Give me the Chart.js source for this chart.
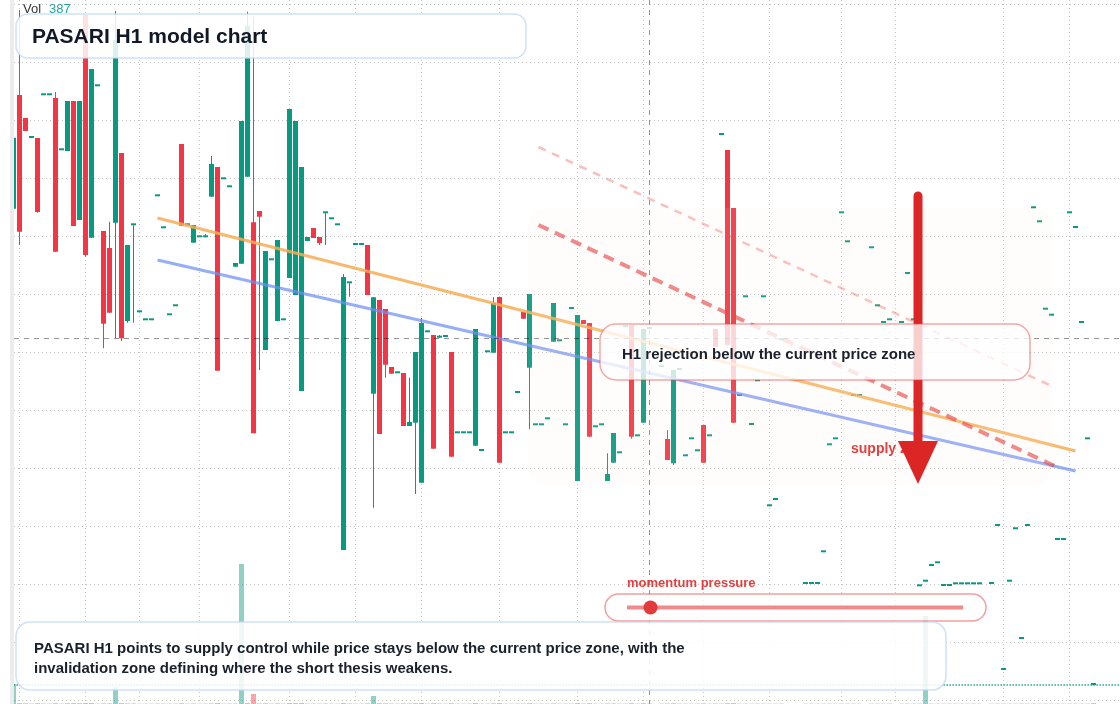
<!DOCTYPE html>
<html>
<head>
<meta charset="utf-8">
<title>PASARI H1 model chart</title>
<script src="https://cdn.jsdelivr.net/npm/chart.js@4.4.1/dist/chart.umd.min.js"></script>
<style>
  html, body { margin: 0; padding: 0; background: #fff; }
  #wrap { position: relative; width: 1120px; height: 704px; }
</style>
</head>
<body>
<div id="wrap"><canvas id="pasariChart"></canvas></div>
<script>
// H1 candles, index 0..180 (null = no print)
const opens = [
  79.13, 90.5, 88.2, 86.2, 86.2, 90.47, 90.47, 90.2, 84.97, 84.9,
  89.9, 78.0, 98.5, 76.23, 91.37, 76.9, 75.2, 77.73, 84.7, 67.9,
  77.47, 68.77, 67.97, 67.97, 80.37, 77.17, 68.47, 69.37, 85.6, 77.47,
  75.73, 76.27, 76.27, 80.33, 83.3, 82.07, 81.27, 73.33, 73.63, 82.33,
  77.77, 78.9, 65.0, 73.97, 67.9, 67.97, 72.2, 70.5, 60.9, 75.9,
  77.2, 76.3, 78.67, 78.07, 77.47, 45.0, 71.67, 75.5, 75.5, 75.5,
  60.63, 70.0, 69.1, 63.3, 62.67, 62.7, 57.4, 57.73, 51.73, 66.77,
  66.5, 66.23, 66.3, 64.8, 56.67, 56.67, 56.67, 55.43, 54.9, 64.77,
  64.73, 70.3, 56.67, 56.67, 60.7, 68.8, 63.23, 57.47, 57.47, 58.07,
  65.83, 65.87, 57.47, 69.1, 51.9, 68.0, 67.7, 57.27, 57.47, 51.9,
  53.73, 54.67, 67.3, 67.5, 56.37, 57.73, 67.1, null, 63.3, 56.1,
  53.67, 63.0, 54.37, 56.07, 54.87, 57.5, 56.37, 67.1, 86.5, 85.0,
  79.2, 60.4, 70.27, 57.5, 61.87, 70.27, 49.37, 50.0, 65.97, null,
  null, null, 41.6, 41.6, 41.6, 44.77, 55.47, 56.07, 78.67, 75.77,
  60.4, 60.4, null, 75.17, 69.37, 67.7, 67.97, null, 67.7, 72.6,
  67.97, 41.37, 41.83, 43.4, 43.67, 41.4, 41.4, 41.57, 41.57, 41.57,
  41.57, 41.57, null, 41.6, 47.4, 33.0, 41.83, 47.07, 36.1, 47.4,
  79.17, 77.77, 69.03, 68.43, 46.0, 46.0, 78.67, 77.2, 67.7, 56.07, 31.5
];
const highs = [
  86.23, 99.0, 88.2, 86.2, 86.2, 90.47, 90.47, 90.8, 84.97, 89.9,
  89.9, 89.9, 98.5, 93.1, 91.37, 76.9, 77.83, 98.9, 84.7, 75.5,
  77.47, 68.77, 67.97, 67.97, 80.37, 77.17, 68.47, 69.37, 85.6, 77.47,
  77.5, 76.27, 76.6, 84.4, 83.3, 82.07, 81.27, 73.7, 87.9, 98.83,
  98.33, 78.9, 74.9, 73.97, 76.0, 67.97, 89.1, 87.9, 83.3, 76.3,
  77.2, 76.3, 78.67, 78.07, 77.47, 72.6, 71.67, 75.5, 75.5, 75.5,
  70.27, 70.0, 69.1, 63.3, 62.67, 62.7, 62.23, 64.8, 68.2, 66.77,
  66.5, 66.5, 66.3, 64.8, 56.67, 56.67, 56.67, 67.1, 54.9, 64.77,
  70.27, 70.3, 56.67, 56.67, 60.7, 68.8, 70.6, 57.47, 57.47, 58.07,
  69.7, 65.87, 57.47, 69.1, 68.5, 68.0, 67.7, 57.27, 57.47, 54.67,
  56.7, 54.67, 67.3, 67.5, 56.37, 67.1, 67.1, null, 63.3, 57.0,
  63.0, 63.0, 54.37, 56.07, 54.87, 57.5, 56.37, 67.1, 86.5, 85.0,
  79.2, 60.4, 70.27, 57.5, 61.87, 70.27, 49.37, 50.0, 65.97, null,
  null, null, 41.6, 41.6, 41.6, 44.77, 55.47, 56.07, 78.67, 75.77,
  60.4, 60.4, null, 75.17, 69.37, 67.7, 67.97, null, 67.7, 72.6,
  67.97, 41.37, 41.83, 43.4, 43.67, 41.4, 41.4, 41.57, 41.57, 41.57,
  41.57, 41.57, null, 41.6, 47.4, 33.0, 41.83, 47.07, 36.1, 47.4,
  79.17, 77.77, 69.03, 68.43, 46.0, 46.0, 78.67, 77.2, 67.7, 56.07, 31.5
];
const lows = [
  79.13, 75.5, 86.9, 86.2, 78.73, 90.47, 90.47, 74.83, 84.97, 84.9,
  77.4, 78.0, 74.33, 76.23, 91.37, 65.17, 68.73, 66.2, 65.93, 67.73,
  67.73, 68.77, 67.97, 67.97, 80.37, 77.17, 68.47, 69.37, 77.43, 77.47,
  75.73, 76.27, 76.27, 80.33, 62.93, 82.07, 81.27, 73.33, 73.63, 82.33,
  56.67, 63.0, 65.0, 73.97, 67.9, 67.97, 72.2, 70.5, 60.9, 75.9,
  76.2, 75.5, 75.5, 78.07, 77.47, 45.0, 70.33, 75.5, 75.5, 70.5,
  49.23, 56.6, 62.23, 62.63, 62.67, 57.4, 57.4, 50.6, 51.73, 66.77,
  55.13, 66.23, 66.3, 54.33, 56.67, 56.67, 56.67, 55.43, 54.9, 64.77,
  64.73, 53.73, 56.67, 56.67, 60.7, 68.13, 57.07, 57.47, 57.47, 58.07,
  65.83, 65.87, 57.47, 69.1, 51.9, 67.6, 56.33, 57.27, 57.47, 51.9,
  53.73, 54.67, 67.3, 56.13, 56.37, 57.73, 67.1, null, 63.3, 54.0,
  53.5, 63.0, 54.37, 56.07, 54.87, 53.73, 56.37, 65.3, 86.5, 65.5,
  57.73, 60.4, 70.27, 57.5, 61.87, 70.27, 49.37, 50.0, 65.97, null,
  null, null, 41.6, 41.6, 41.6, 44.77, 55.47, 56.07, 78.67, 75.77,
  60.4, 60.4, null, 75.17, 69.37, 67.7, 67.97, null, 67.7, 72.6,
  67.97, 41.37, 41.83, 43.4, 43.67, 41.4, 41.4, 41.57, 41.57, 41.57,
  41.57, 41.57, null, 41.6, 47.4, 33.0, 41.83, 47.07, 36.1, 47.4,
  79.17, 77.77, 69.03, 68.43, 46.0, 46.0, 78.67, 77.2, 67.7, 56.07, 31.5
];
const closes = [
  86.23, 76.83, 86.9, 86.2, 78.8, 90.47, 90.47, 74.83, 84.97, 89.9,
  77.4, 89.9, 74.5, 93.1, 91.37, 67.63, 68.73, 96.0, 66.17, 75.5,
  77.47, 68.77, 67.97, 67.97, 80.37, 77.17, 68.47, 69.37, 77.43, 77.47,
  77.5, 76.27, 76.27, 83.6, 62.93, 82.07, 81.27, 73.7, 87.9, 97.4,
  56.67, 78.33, 74.9, 73.97, 76.0, 67.97, 89.1, 87.9, 83.3, 76.3,
  76.2, 75.7, 78.67, 78.07, 77.47, 72.3, 71.67, 75.5, 75.5, 70.5,
  70.27, 56.6, 63.53, 62.63, 62.67, 57.4, 57.8, 64.8, 67.7, 66.77,
  55.13, 66.23, 66.3, 54.33, 56.67, 56.67, 56.67, 67.1, 54.9, 64.77,
  69.7, 53.73, 56.67, 56.67, 60.7, 68.13, 70.6, 57.47, 57.47, 58.07,
  69.7, 65.87, 57.47, 69.1, 68.5, 67.6, 56.33, 57.27, 57.47, 52.6,
  56.7, 54.67, 67.3, 56.33, 56.37, 67.1, 67.1, null, 63.3, 54.0,
  63.0, 63.0, 54.37, 56.07, 54.87, 53.73, 56.37, 65.3, 86.5, 65.5,
  57.73, 60.4, 70.27, 57.5, 61.87, 70.27, 49.37, 50.0, 65.97, null,
  null, null, 41.6, 41.6, 41.6, 44.77, 55.47, 56.07, 78.67, 75.77,
  60.4, 60.4, null, 75.17, 69.37, 67.7, 67.97, null, 67.7, 72.6,
  67.97, 41.37, 41.83, 43.4, 43.67, 41.4, 41.4, 41.57, 41.57, 41.57,
  41.57, 41.57, null, 41.6, 47.4, 33.0, 41.83, 47.07, 36.1, 47.4,
  79.17, 77.77, 69.03, 68.43, 46.0, 46.0, 78.67, 77.2, 67.7, 56.07, 31.5
];
const volumes = [
  10000, 420, 310, 180, 360, 220, 190, 400, 170, 330,
  380, 350, 450, 440, 160, 300, 280, 8500, 390, 260,
  240, 150, 170, 160, 200, 210, 180, 190, 340, 170,
  230, 160, 180, 270, 440, 180, 200, 210, 70000, 430,
  5000, 250, 330, 190, 300, 170, 440, 420, 450, 200,
  210, 220, 230, 170, 160, 450, 220, 180, 170, 290,
  4000, 380, 310, 200, 170, 300, 240, 360, 430, 180,
  370, 200, 160, 360, 170, 160, 180, 400, 170, 190,
  300, 440, 170, 160, 190, 210, 350, 160, 170, 180,
  260, 170, 180, 190, 420, 200, 380, 170, 160, 250,
  260, 170, 190, 390, 170, 350, 180, null, 170, 240,
  330, 180, 170, 160, 170, 280, 160, 240, 190, 400,
  430, 170, 180, 160, 170, 180, 160, 170, 190, null,
  null, null, 160, 170, 160, 180, 170, 160, 190, 180,
  170, 160, null, 180, 170, 160, 170, null, 160, 190,
  170, 180, 44000, 190, 170, 160, 170, 180, 160, 170,
  180, 160, null, 170, 180, 190, 160, 170, 200, 180,
  190, 170, 180, 160, 170, 180, 190, 170, 160, 180, 387
];
const volAvg = 9500;

// grid / tick positions
const gridIdx = [1, 12, 21, 31, 46, 57, 68, 81, 94, 105, 115, 126, 138, 147, 165, 176];
const gridPrices = [30, 35.8, 41.6, 47.4, 53.2, 59, 64.8, 70.6, 76.4, 82.2, 88, 93.8, 99.6];

// drawn levels: [index, price] end points
const resistanceLine = [[24, 78.2], [177, 54.9]];
const supportLine = [[24, 74.0], [177, 52.9]];
const supplyPath = [[87.5, 77.5], [173.5, 53.4]];
const upperPath = [[87.5, 85.3], [173, 61.4]];
const supplyZone = { from: 85.75, to: 173.08, top: 79.2, bottom: 51.5 };
const arrowLeg = { at: 150.75, from: 80.4, headStart: 55.9, to: 51.6 };
const crossIdx = 106;
const currentPrice = 66.15;
const momentum = 0.07;

const titleText = 'PASARI H1 model chart';
const calloutText = 'H1 rejection below the current price zone';
const noteLines = [
  'PASARI H1 points to supply control while price stays below the current price zone, with the',
  'invalidation zone defining where the short thesis weakens.'
];

const UP = '#089981';
const DOWN = '#f23645';
const FONT = '"Liberation Sans", Arial, sans-serif';

const live = opens.map((o, i) => i).filter(i => opens[i] !== null);
const bodyData = live.map(i => ({ x: i, y: [opens[i], closes[i]], up: closes[i] >= opens[i] }));
const wickData = live.map(i => ({ x: i, y: [lows[i], highs[i]], up: closes[i] >= opens[i] }));
const volData = live.map(i => ({ x: i, y: volumes[i], up: closes[i] >= opens[i] }));
const toPts = arr => arr.map(p => ({ x: p[0], y: p[1] }));

const candleColor = ctx => (ctx.raw && ctx.raw.up) ? UP : DOWN;
const volColor = ctx => (ctx.raw && ctx.raw.up) ? 'rgba(8, 153, 129, 0.45)' : 'rgba(242, 54, 69, 0.45)';

function box(ctx, x, y, w, h, r, fill, stroke, lw) {
  ctx.beginPath();
  ctx.roundRect(x, y, w, h, r);
  if (fill) { ctx.fillStyle = fill; ctx.fill(); }
  if (stroke) { ctx.strokeStyle = stroke; ctx.lineWidth = lw; ctx.stroke(); }
}

const overlay = {
  id: 'overlay',
  beforeDraw(chart) {
    const { ctx } = chart;
    ctx.save();
    ctx.fillStyle = '#ececec';
    ctx.fillRect(10, 0, 4, chart.height);
    ctx.restore();
  },
  afterDatasetsDraw(chart) {
    const { ctx, chartArea, scales: { x, y } } = chart;
    ctx.save();
    // supply zone
    const zx0 = x.getPixelForValue(supplyZone.from), zx1 = x.getPixelForValue(supplyZone.to);
    const zy0 = y.getPixelForValue(supplyZone.top), zy1 = y.getPixelForValue(supplyZone.bottom);
    box(ctx, zx0, zy0, zx1 - zx0, zy1 - zy0, 18, 'rgba(255, 237, 213, 0.09)');

    // crosshair
    ctx.strokeStyle = 'rgba(0, 0, 0, 0.42)';
    ctx.lineWidth = 1;
    ctx.setLineDash([5, 5]);
    const cx = x.getPixelForValue(crossIdx);
    const cy = y.getPixelForValue(currentPrice);
    ctx.beginPath();
    ctx.moveTo(cx, chartArea.top); ctx.lineTo(cx, chartArea.bottom);
    ctx.moveTo(chartArea.left, cy); ctx.lineTo(chartArea.right, cy);
    ctx.stroke();
    ctx.setLineDash([]);

    // supply zone label
    ctx.font = 'bold 14px ' + FONT;
    ctx.fillStyle = '#e53e3e';
    ctx.textBaseline = 'alphabetic';
    ctx.fillText('supply zone', 851, 453);

    // down arrow
    const ax = x.getPixelForValue(arrowLeg.at);
    const aTop = y.getPixelForValue(arrowLeg.from);
    const aHead = y.getPixelForValue(arrowLeg.headStart);
    const aTip = y.getPixelForValue(arrowLeg.to);
    ctx.strokeStyle = '#dc2626';
    ctx.fillStyle = '#dc2626';
    ctx.lineWidth = 9;
    ctx.lineCap = 'round';
    ctx.beginPath();
    ctx.moveTo(ax, aTop); ctx.lineTo(ax, aHead + 4);
    ctx.stroke();
    ctx.beginPath();
    ctx.moveTo(ax - 20, aHead); ctx.lineTo(ax + 20, aHead); ctx.lineTo(ax, aTip);
    ctx.closePath();
    ctx.fill();
    ctx.restore();
  },
  afterDraw(chart) {
    const { ctx } = chart;
    ctx.save();
    ctx.textBaseline = 'alphabetic';

    // callout
    box(ctx, 600, 324, 430, 56, 16, 'rgba(255, 255, 255, 0.78)', 'rgba(229, 62, 62, 0.45)', 1.5);
    ctx.font = 'bold 15px ' + FONT;
    ctx.fillStyle = '#1a202c';
    ctx.fillText(calloutText, 622, 359);

    // momentum slider
    ctx.font = 'bold 13px ' + FONT;
    ctx.fillStyle = '#e53e3e';
    ctx.fillText('momentum pressure', 627, 587);
    box(ctx, 605, 594, 381, 27, 13.5, 'rgba(255, 255, 255, 0.8)', 'rgba(229, 62, 62, 0.5)', 1.5);
    ctx.strokeStyle = 'rgba(229, 62, 62, 0.6)';
    ctx.lineWidth = 4;
    ctx.beginPath();
    ctx.moveTo(627, 607.5); ctx.lineTo(963, 607.5);
    ctx.stroke();
    ctx.fillStyle = '#e23b3b';
    ctx.beginPath();
    ctx.arc(627 + momentum * (963 - 627), 607.5, 7, 0, Math.PI * 2);
    ctx.fill();

    // bottom note
    box(ctx, 16, 622, 930, 68, 14, 'rgba(255, 255, 255, 0.86)', 'rgba(191, 214, 250, 0.75)', 1.5);
    ctx.font = 'bold 15px ' + FONT;
    ctx.fillStyle = '#1a202c';
    noteLines.forEach((t, k) => ctx.fillText(t, 34, 653 + k * 20));

    // title
    box(ctx, 16, 14, 510, 44, 12, 'rgba(255, 255, 255, 0.86)', 'rgba(191, 214, 250, 0.75)', 1.5);
    ctx.font = 'bold 21px ' + FONT;
    ctx.fillStyle = '#111827';
    ctx.fillText(titleText, 32, 43);

    // volume readout
    ctx.font = '13px ' + FONT;
    ctx.fillStyle = '#333';
    ctx.fillText('Vol', 23, 13);
    ctx.fillStyle = '#26a69a';
    ctx.fillText(String(volumes[volumes.length - 1]), 49, 13);
    ctx.restore();
  }
};

const ctxMain = document.getElementById('pasariChart').getContext('2d');
const pasariChart = new Chart(ctxMain, {
  type: 'bar',
  data: {
    datasets: [
      { type: 'line', label: 'Supply path', data: toPts(supplyPath), borderColor: 'rgba(229, 62, 62, 0.65)', borderWidth: 4, borderDash: [11, 7], pointRadius: 0, order: 0 },
      { type: 'line', label: 'Upper band', data: toPts(upperPath), borderColor: 'rgba(239, 68, 68, 0.35)', borderWidth: 2.5, borderDash: [8, 7], pointRadius: 0, order: 0 },
      { type: 'line', label: 'Resistance', data: toPts(resistanceLine), borderColor: 'rgba(246, 173, 85, 0.85)', borderWidth: 3.2, pointRadius: 0, order: 1 },
      { type: 'line', label: 'Support', data: toPts(supportLine), borderColor: 'rgba(110, 142, 245, 0.72)', borderWidth: 3, pointRadius: 0, order: 1 },
      { label: 'Body', data: bodyData, backgroundColor: candleColor, barThickness: 5, minBarLength: 2, grouped: false, inflateAmount: 0, order: 2 },
      { label: 'Wick', data: wickData, backgroundColor: candleColor, barThickness: 1, grouped: false, inflateAmount: 0, order: 3 },
      { type: 'line', label: 'Vol avg', yAxisID: 'y1', data: [{ x: -1, y: volAvg }, { x: 185, y: volAvg }], borderColor: UP, borderWidth: 1.3, borderDash: [1.3, 1.7], pointRadius: 0, order: 4 },
      { label: 'Volume', yAxisID: 'y1', data: volData, backgroundColor: volColor, barThickness: 5, grouped: false, inflateAmount: 0, order: 5 }
    ]
  },
  options: {
    responsive: true,
    maintainAspectRatio: false,
    animation: false,
    events: [],
    layout: { padding: { left: 14, right: 0, top: 0, bottom: 0 } },
    plugins: { legend: { display: false }, tooltip: { enabled: false } },
    scales: {
      x: {
        type: 'linear',
        min: 1 / 12,
        max: 184 + 5 / 12,
        offset: false,
        afterBuildTicks: s => { s.ticks = gridIdx.map(v => ({ value: v })); },
        ticks: { display: false },
        grid: { color: '#c4c4c4', lineWidth: 1, drawTicks: false, offset: false },
        border: { display: false, dash: [1, 3] }
      },
      y: {
        type: 'linear',
        min: 29.6,
        max: 100,
        beginAtZero: false,
        afterBuildTicks: s => { s.ticks = gridPrices.map(v => ({ value: v })); },
        ticks: { display: false },
        grid: { color: '#c4c4c4', lineWidth: 1, drawTicks: false },
        border: { display: false, dash: [1, 3] }
      },
      y1: {
        type: 'linear',
        display: false,
        min: 0,
        max: 352000
      }
    }
  },
  plugins: [overlay]
});
</script>
</body>
</html>
